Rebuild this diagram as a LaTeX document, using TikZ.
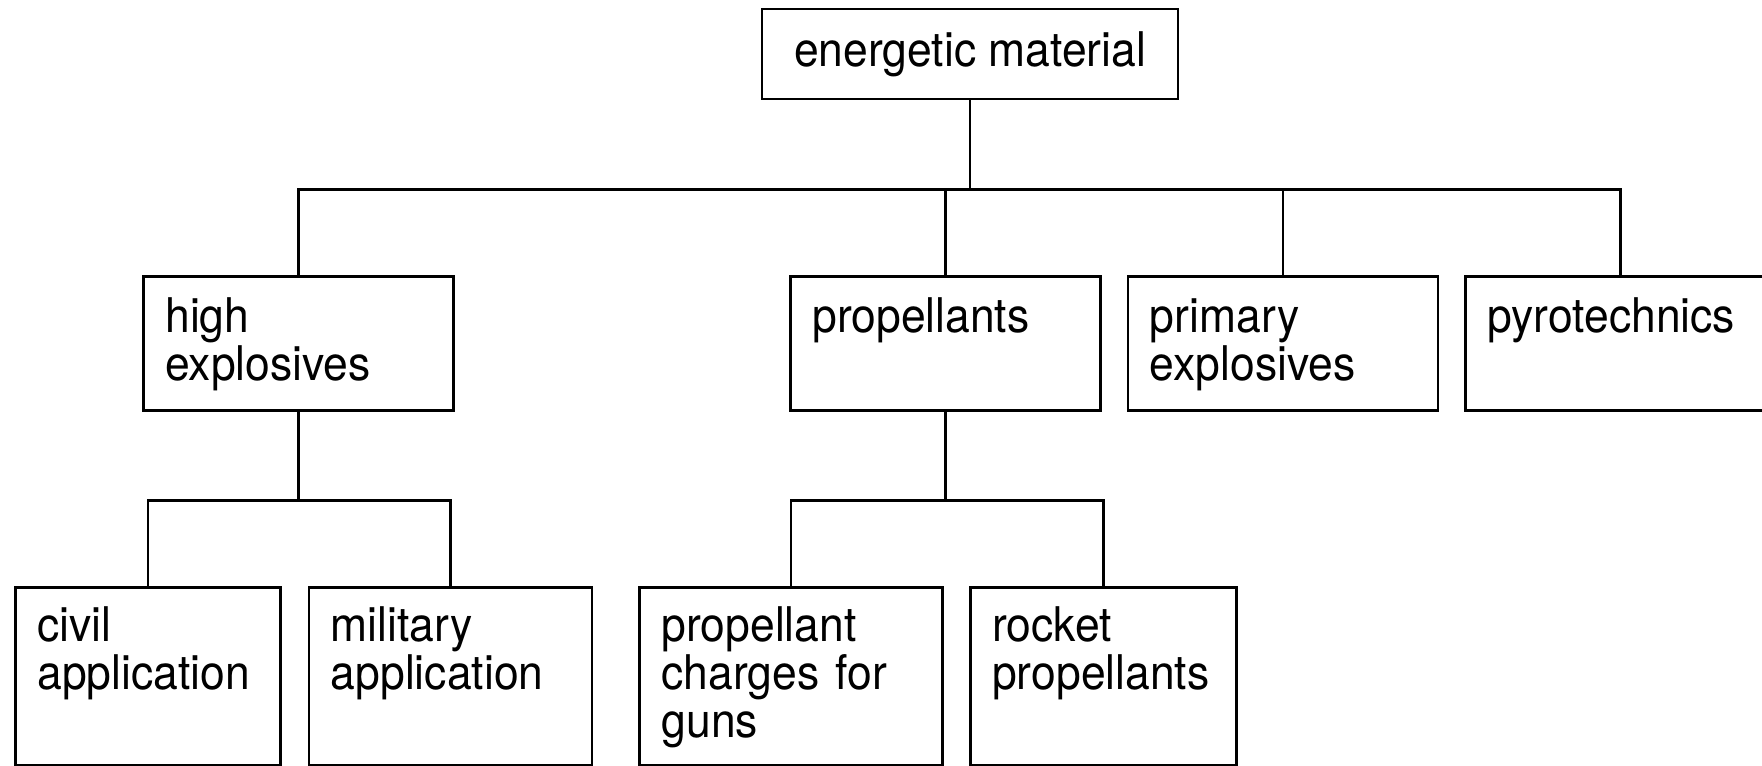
\documentclass[tikz,border=0pt]{standalone}
\usepackage{fontspec}
\setmainfont{TeX Gyre Heros}[FakeStretch=0.93]
\usetikzlibrary{positioning,calc}

\begin{document}
\begin{tikzpicture}[
    font=\fontsize{13.6}{13.7}\selectfont,
    line width=0.75pt,
    topbox/.style={draw, minimum width=4.16cm, minimum height=0.9cm,
                   inner sep=0pt},
    midbox/.style={draw, align=left, inner xsep=0.22cm,
                   inner ysep=0pt, text width=2.66cm,
                   text height=0.56cm, text depth=0.78cm},
    lowbox/.style={draw, align=left, inner xsep=0.22cm,
                   inner ysep=0pt, text width=#1,
                   text height=0.54cm, text depth=1.24cm},
  ]
  \clip (0,0) rectangle (17.62,-7.65);

  % root
  \node[topbox] (em) at (9.70,-0.54) {energetic material};

  % second row
  \node[midbox, anchor=north west] (hx) at (1.42,-2.75) {high\\explosives};
  \node[midbox, anchor=north west] (prop) at (7.89,-2.75) {propellants};
  \node[midbox, right=0.25cm of prop] (prim) {primary\\explosives};
  \node[midbox, right=0.25cm of prim] (pyro) {pyrotechnics};

  % third row
  \node[lowbox=2.21cm, anchor=north west] (civ) at (0.14,-5.86)
    {civil\\application};
  \node[lowbox=2.39cm, right=0.26cm of civ] (mil)
    {military\\application};
  \node[lowbox=2.59cm, right=0.45cm of mil] (pcg)
    {propellant\\charges for\\guns};
  \node[lowbox=2.22cm, right=0.25cm of pcg] (rock)
    {rocket\\propellants};

  % connectors
  \coordinate[below=0.89cm of em.south] (emj);
  \coordinate[below=0.89cm of hx.south] (hxj);
  \coordinate[below=0.89cm of prop.south] (propj);

  \draw (em.south) -- (emj);
  \draw (hx.north) |- (emj) -| (pyro.north);
  \draw (prop.north) -- (prop.north |- emj);
  \draw (prim.north) -- (prim.north |- emj);

  \draw (hx.south) -- (hxj);
  \draw (civ.north) |- (hxj) -| (mil.north);

  \draw (prop.south) -- (propj);
  \draw (pcg.north) |- (propj) -| (rock.north);

\end{tikzpicture}
\end{document}
